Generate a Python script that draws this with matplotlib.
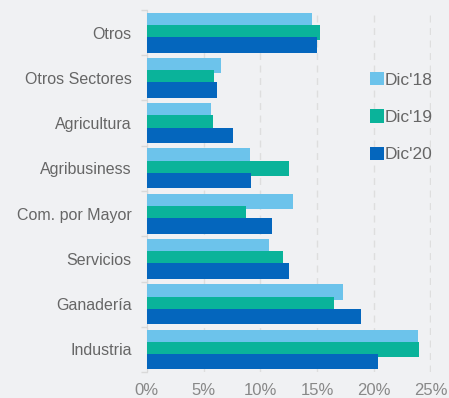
import numpy as np
import matplotlib
matplotlib.use('Agg')
from matplotlib import pyplot as plt
from matplotlib.ticker import FuncFormatter

# data
sectores = ['Otros', 'Otros Sectores', 'Agricultura', 'Agribusiness',
            'Com. por Mayor', 'Servicios', 'Ganadería', 'Industria']
dic18 = [14.6, 6.5, 5.7, 9.1, 12.9, 10.8, 17.3, 23.9]
dic19 = [15.3, 5.9, 5.8, 12.5, 8.7, 12.0, 16.5, 24.0]
dic20 = [15.0, 6.2, 7.6, 9.2, 11.0, 12.5, 18.9, 20.4]
series = ["Dic'18", "Dic'19", "Dic'20"]
colores = ['#6cc3eb', '#0ab39a', '#0466bd']

plt.rcParams['font.family'] = ['Liberation Sans', 'DejaVu Sans']

bg = '#f0f1f3'
fig = plt.figure(figsize=(4.49, 3.98), dpi=100, facecolor=bg)
ax = fig.add_axes([0.327, 0.065, 0.633, 0.91], facecolor=bg)

y = np.arange(len(sectores))
h = 0.34
off = 0.27
for vals, off_i, col, lab in zip([dic18, dic19, dic20], [-off, 0, off], colores, series):
    ax.barh(y + off_i, vals, height=h, color=col, label=lab, zorder=3)

ax.set_xlim(0, 25.05)
ax.set_ylim(len(sectores) - 0.5, -0.5)
ax.set_yticks(y)
ax.set_yticklabels(sectores)
ax.set_yticks(np.arange(-0.5, len(sectores), 1), minor=True)
ax.tick_params(axis='y', which='major', length=0, pad=11, labelsize=11.5, labelcolor='#666666')
ax.tick_params(axis='y', which='minor', length=4, color='#d9d9d9', width=1)
ax.set_xticks(np.arange(0, 26, 5))
ax.xaxis.set_major_formatter(FuncFormatter(lambda v, p: f'{v:.0f}%'))
ax.tick_params(axis='x', length=0, pad=8, labelsize=12, labelcolor='#888888')

ax.grid(axis='x', linestyle=(0, (5, 4)), color='#dedede', linewidth=1, zorder=0)
ax.set_axisbelow(True)
for s in ['top', 'right', 'bottom']:
    ax.spines[s].set_visible(False)
ax.spines['left'].set_color('#d9d9d9')

leg = ax.legend(loc='upper right', bbox_to_anchor=(1.06, 0.872), frameon=False,
                fontsize=12.5, handlelength=0.8, handleheight=0.8,
                handletextpad=0.05, labelspacing=1.25, labelcolor='#666666')

plt.savefig('out.png', dpi=100, facecolor=bg)
